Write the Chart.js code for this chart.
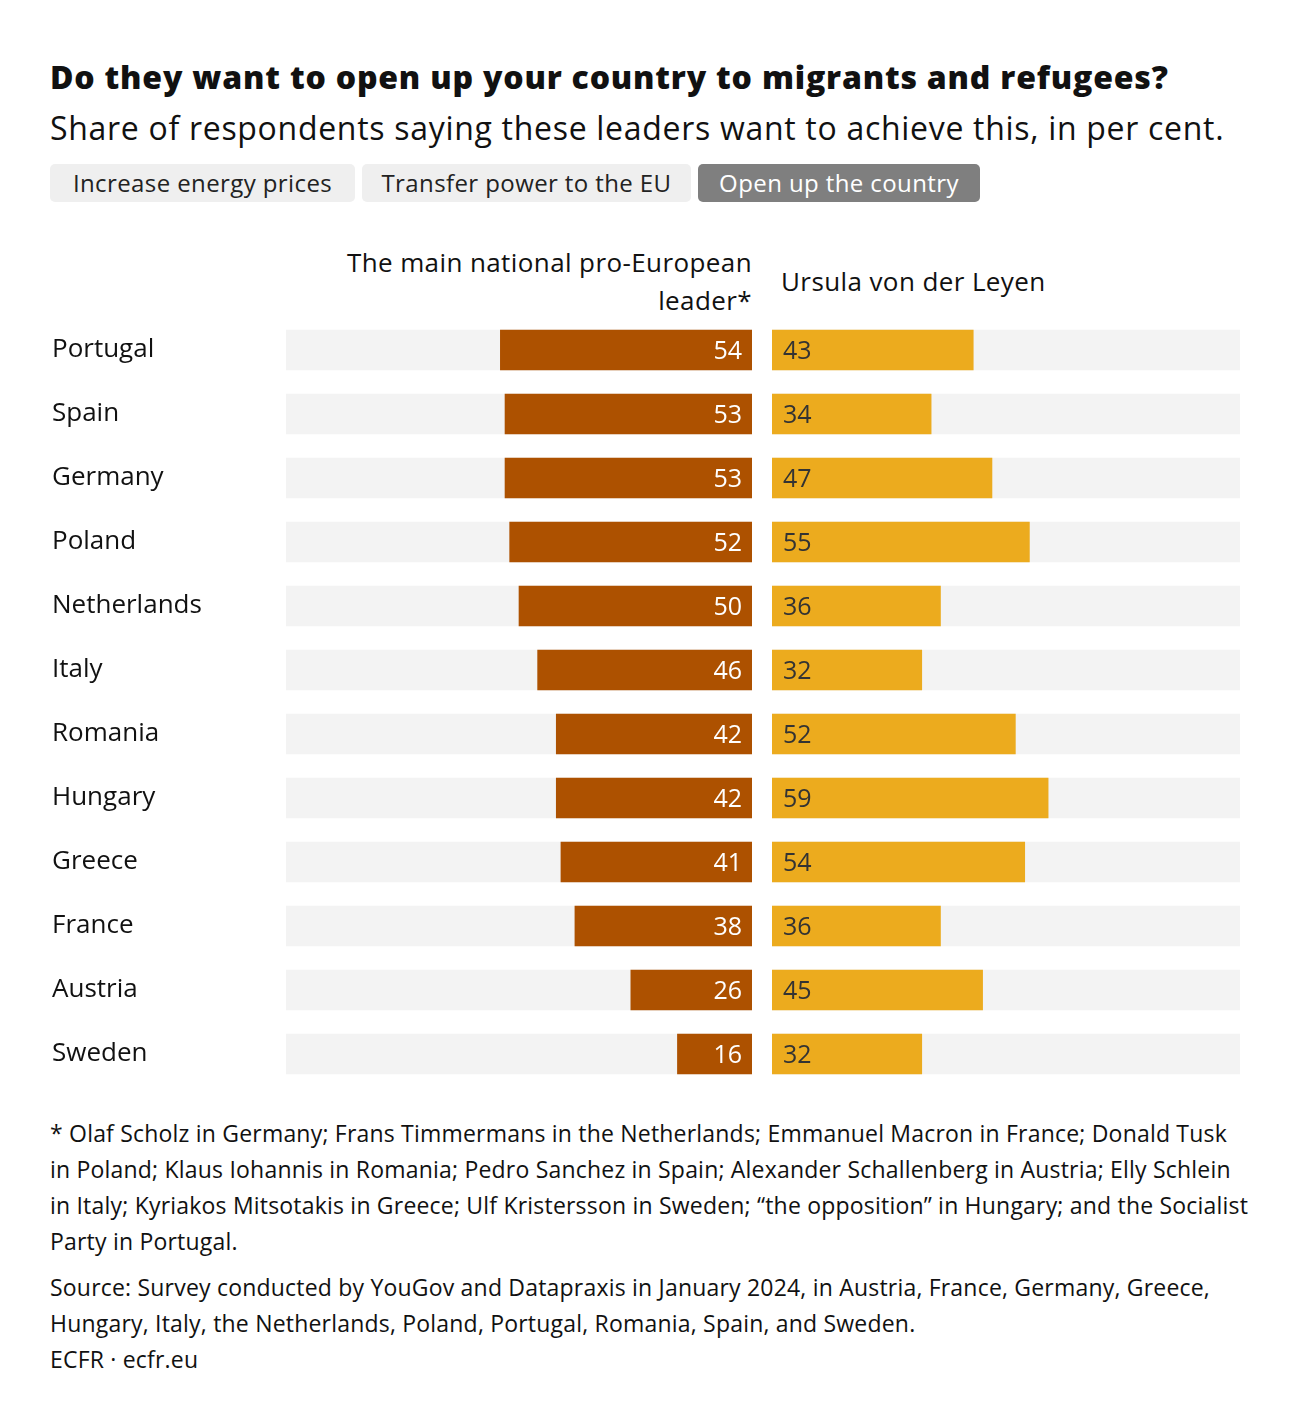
<!DOCTYPE html>
<html>
<head>
<meta charset="utf-8">
<script src="https://cdn.jsdelivr.net/npm/chart.js@4.4.1/dist/chart.umd.min.js"></script>
<style>
  html, body { margin: 0; padding: 0; background: #fff; }
  body { width: 1300px; height: 1426px; position: relative; font-family: "Open Sans", Lato, sans-serif; color: #111; }
  .abs { position: absolute; }
  #title { left: 50px; top: 55px; font-size: 32px; letter-spacing: 0.8px; font-weight: 800; white-space: nowrap; }
  #subtitle { left: 50px; top: 106px; font-size: 32px; letter-spacing: 0.7px; white-space: nowrap; color: #111; }
  .tab { top: 164px; height: 38px; line-height: 38px; border-radius: 5px; background: #efefef; font-size: 24px; letter-spacing: 0.4px; text-align: center; color: #222; }
  .tab.on { background: #7f7f7f; color: #fff; }
  .head { font-size: 26px; letter-spacing: 0.4px; line-height: 38px; color: #111; }
  .note { left: 50px; white-space: nowrap; font-size: 23px; letter-spacing: 0.2px; line-height: 36px; color: #111; }
  canvas { display: block; }
</style>
</head>
<body>
<div id="title" class="abs">Do they want to open up your country to migrants and refugees?</div>
<div id="subtitle" class="abs">Share of respondents saying these leaders want to achieve this, in per cent.</div>
<div class="abs tab" style="left:50px;width:305px;">Increase energy prices</div>
<div class="abs tab" style="left:362px;width:329px;">Transfer power to the EU</div>
<div class="abs tab on" style="left:698px;width:282px;">Open up the country</div>

<div class="abs head" style="left:250px;width:502px;top:243px;text-align:right;">The main national pro-European<br>leader*</div>
<div class="abs head" style="left:781px;top:262px;">Ursula von der Leyen</div>

<div class="abs" style="left:52px;top:318px;width:700px;height:768px;"><canvas id="leftChart"></canvas></div>
<div class="abs" style="left:772px;top:318px;width:468px;height:768px;"><canvas id="rightChart"></canvas></div>

<div class="abs note" style="top:1115px;">* Olaf Scholz in Germany; Frans Timmermans in the Netherlands; Emmanuel Macron in France; Donald Tusk<br>in Poland; Klaus Iohannis in Romania; Pedro Sanchez in Spain; Alexander Schallenberg in Austria; Elly Schlein<br>in Italy; Kyriakos Mitsotakis in Greece; Ulf Kristersson in Sweden; “the opposition” in Hungary; and the Socialist<br>Party in Portugal.</div>
<div class="abs note" style="top:1269px;">Source: Survey conducted by YouGov and Datapraxis in January 2024, in Austria, France, Germany, Greece,<br>Hungary, Italy, the Netherlands, Poland, Portugal, Romania, Spain, and Sweden.</div>
<div class="abs note" style="top:1341px;">ECFR · ecfr.eu</div>

<script>
const countries = ['Portugal', 'Spain', 'Germany', 'Poland', 'Netherlands', 'Italy', 'Romania', 'Hungary', 'Greece', 'France', 'Austria', 'Sweden'];
const nationalLeader = [54, 53, 53, 52, 50, 46, 42, 42, 41, 38, 26, 16];
const vonDerLeyen = [43, 34, 47, 55, 36, 32, 52, 59, 54, 36, 45, 32];
const fullScale = countries.map(() => 100);

const FONT = '"Open Sans", Lato, sans-serif';

// draws the value inside each coloured bar, next to the centre line
const valueLabels = {
    id: 'valueLabels',
    afterDatasetsDraw(chart, args, opts) {
        const ctx = chart.ctx;
        const meta = chart.getDatasetMeta(1);
        const values = chart.data.datasets[1].data;
        ctx.save();
        ctx.font = '25px ' + FONT;
        ctx.fillStyle = opts.color;
        ctx.textBaseline = 'middle';
        ctx.textAlign = opts.side === 'left' ? 'right' : 'left';
        meta.data.forEach((bar, i) => {
            const x = opts.side === 'left' ? bar.base - 10 : bar.base + 11;
            ctx.fillText(String(values[i]), x, bar.y + 2);
        });
        ctx.restore();
    }
};

function makeChart(id, values, color, side) {
    const isLeft = side === 'left';
    return new Chart(document.getElementById(id), {
        type: 'bar',
        data: {
            labels: countries,
            datasets: [
                { data: fullScale, backgroundColor: '#f3f3f3', order: 2 },
                { data: values, backgroundColor: color, order: 1 }
            ]
        },
        options: {
            indexAxis: 'y',
            responsive: true,
            maintainAspectRatio: false,
            animation: false,
            events: [],
            layout: { padding: 0 },
            datasets: { bar: { grouped: false, barThickness: 40, borderWidth: 0 } },
            scales: {
                x: { min: 0, max: 100, reverse: isLeft, display: false },
                y: {
                    display: isLeft,
                    grid: { display: false, drawTicks: false },
                    border: { display: false },
                    ticks: {
                        crossAlign: 'far',
                        padding: 0,
                        color: '#111',
                        font: { family: FONT, size: 26 }
                    },
                    afterFit(scale) {
                        if (!isLeft) return;
                        scale.width = 234;
                        scale.paddingTop = 0;
                        scale.paddingBottom = 0;
                    }
                }
            },
            plugins: {
                legend: { display: false },
                tooltip: { enabled: false },
                valueLabels: { side: side, color: isLeft ? '#ffffff' : '#333333' }
            }
        },
        plugins: [valueLabels]
    });
}

makeChart('leftChart', nationalLeader, '#ad5100', 'left');
makeChart('rightChart', vonDerLeyen, '#ecab1e', 'right');
</script>
</body>
</html>
